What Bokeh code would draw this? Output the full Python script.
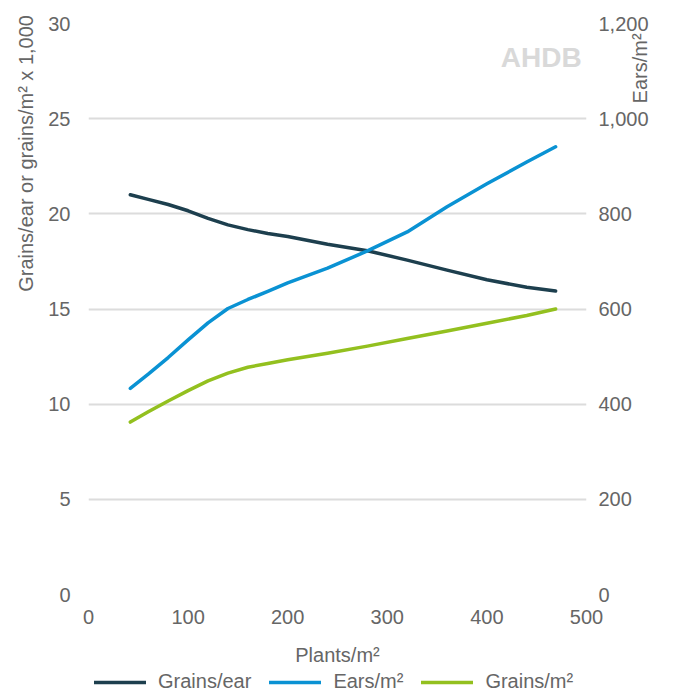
import math
from bokeh.plotting import figure
from bokeh.layouts import column
from bokeh.models import (LinearAxis, Range1d, NumeralTickFormatter, Legend,
                          LegendItem, Label, FixedTicker)
from bokeh.embed import file_html
from bokeh.resources import INLINE

# ---- data ----
plants = [42, 60, 80, 100, 120, 140, 160, 180, 200, 240, 280, 320, 360, 400, 440, 469]
grains_per_ear = [21.0, 20.76, 20.49, 20.16, 19.76, 19.42, 19.17, 18.97, 18.81,
                  18.40, 18.06, 17.57, 17.04, 16.54, 16.14, 15.95]
ears_per_m2 = [433, 463, 498, 535, 571, 601, 620, 637, 655, 686, 722, 762, 815,
               863, 909, 941]
grains_per_m2 = [9.06, 9.6, 10.17, 10.71, 11.22, 11.63, 11.94, 12.14, 12.33,
                 12.67, 13.05, 13.45, 13.84, 14.25, 14.66, 15.0]

x_ticks = [0, 100, 200, 300, 400, 500]
left_ticks = [0, 5, 10, 15, 20, 25, 30]
right_ticks = [0, 200, 400, 600, 800, 1000, 1200]

series_names = ["Grains/ear", "Ears/m²", "Grains/m²"]
colors = ["#1d3f4e", "#0a92d3", "#93c01f"]

FONT = "Liberation Sans"
TXT = "#666666"
FS = "20px"
NB = "\u00a0"

p = figure(width=675, height=669, x_range=Range1d(0, 500), y_range=Range1d(0, 30),
           output_backend="svg", toolbar_location=None,
           min_border_left=88, min_border_right=89, min_border_top=23,
           min_border_bottom=75)
p.extra_y_ranges = {"ears": Range1d(0, 1200)}
p.outline_line_color = None
p.background_fill_color = "white"
p.border_fill_color = "white"

# grid
p.xgrid.grid_line_color = None
p.ygrid.grid_line_color = "#dcdcdc"
p.ygrid.grid_line_width = 2
p.ygrid.ticker = FixedTicker(ticks=left_ticks)

def style_axis(ax):
    ax.axis_line_color = None
    ax.major_tick_line_color = None
    ax.minor_tick_line_color = None
    ax.major_tick_out = 0
    ax.major_tick_in = 0
    ax.minor_tick_out = 0
    ax.minor_tick_in = 0
    ax.major_label_text_font = FONT
    ax.major_label_text_font_size = FS
    ax.major_label_text_color = TXT
    ax.axis_label_text_font = FONT
    ax.axis_label_text_font_size = FS
    ax.axis_label_text_color = TXT
    ax.axis_label_text_font_style = "normal"

# x axis
xa = p.xaxis[0]
xa.ticker = FixedTicker(ticks=x_ticks)
style_axis(xa)
xa.major_label_standoff = 15
xa.axis_label = "Plants/m²"
xa.axis_label_standoff = 17

# left axis (label pushed toward the top end)
ya = p.yaxis[0]
ya.ticker = FixedTicker(ticks=left_ticks)
style_axis(ya)
ya.major_label_standoff = 18
ya.axis_label = NB * 56 + "Grains/ear or grains/m² x 1,000"
ya.axis_label_standoff = 8

# right axis
ra = LinearAxis(y_range_name="ears", ticker=FixedTicker(ticks=right_ticks),
                formatter=NumeralTickFormatter(format="0,0"))
style_axis(ra)
ra.major_label_standoff = 12
ra.axis_label = NB * 37 + "Ears/m²"
ra.axis_label_standoff = -12
ra.axis_label_orientation = math.pi / 2
p.add_layout(ra, "right")

# lines
r1 = p.line(plants, grains_per_ear, line_color=colors[0], line_width=3.5,
            line_cap="round", line_join="round")
r2 = p.line(plants, ears_per_m2, y_range_name="ears", line_color=colors[1],
            line_width=3.5, line_cap="round", line_join="round")
r3 = p.line(plants, grains_per_m2, line_color=colors[2], line_width=3.5,
            line_cap="round", line_join="round")

# logo text
p.add_layout(Label(x=414, y=27.4, text="AHDB", text_font=FONT, text_font_size="28px",
                   text_font_style="bold", text_color="#d9d9d9"))

# ---- legend strip below the chart ----
lg = figure(width=675, height=24, x_range=Range1d(0, 1), y_range=Range1d(0, 1),
            output_backend="svg", toolbar_location=None,
            x_axis_location=None, y_axis_location=None,
            min_border_left=0, min_border_right=0, min_border_top=0,
            min_border_bottom=0)
lg.grid.visible = False
lg.outline_line_color = None
# same series, drawn outside this strip's view so only their legend swatches show
lr = [lg.line(plants, vals, line_color=c, line_width=3.5, line_cap="round")
      for vals, c in zip([grains_per_ear, ears_per_m2, grains_per_m2], colors)]
legend = Legend(items=[LegendItem(label=n, renderers=[r]) for n, r in zip(series_names, lr)],
                orientation="horizontal", location=(6, 0),
                glyph_width=52, glyph_height=20, label_standoff=12, spacing=18,
                padding=0, margin=0, border_line_color=None,
                background_fill_alpha=0,
                label_text_font=FONT, label_text_font_size=FS,
                label_text_color=TXT)
lg.add_layout(legend, "center")

layout = column(p, lg, spacing=0)
open("out.html", "w").write(file_html(layout, INLINE))
